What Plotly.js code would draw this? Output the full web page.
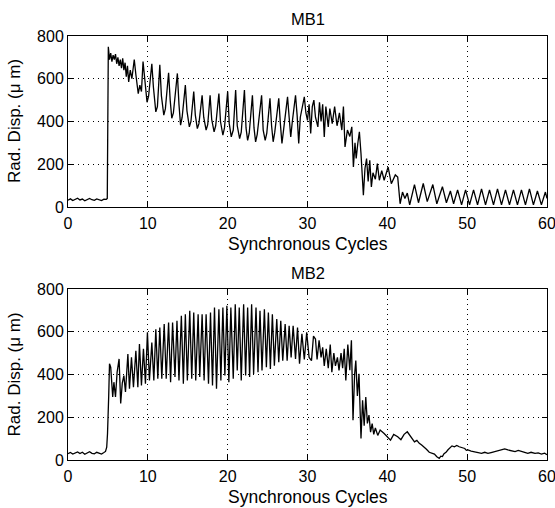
<!DOCTYPE html>
<html>
<head>
<meta charset="utf-8">
<script src="https://cdn.plot.ly/plotly-3.0.1.min.js"></script>
<style>html,body{margin:0;padding:0;background:#fff;}#chart{width:555px;height:508px;}</style>
</head>
<body>
<div id="chart"></div>
<script>
// MB1 radial displacement (µm) vs synchronous cycles
var mb1Cycles = [0,0.3,0.6,0.9,1.2,1.5,1.8,2.1,2.4,2.7,3.0,3.3,3.6,3.9,4.2,4.5,4.8,4.92,5.0,5.05,5.2,5.35,5.5,5.65,5.8,5.95,6.1,6.25,6.4,6.55,6.7,6.85,7.0,7.15,7.3,7.45,7.6,7.8,8.0,8.3,8.5,8.8,9.0,9.2,9.4,9.6,9.9,10.1,10.5,10.7,11.0,11.2,11.5,11.7,12.0,12.2,12.6,12.8,13.0,13.2,13.7,13.9,14.1,14.3,14.7,14.9,15.2,15.4,15.75,15.95,16.2,16.4,16.8,17.0,17.3,17.5,17.8,18.0,18.3,18.5,18.9,19.1,19.4,19.6,20.0,20.2,20.45,20.7,21.0,21.2,21.5,21.7,22.1,22.3,22.5,22.7,23.1,23.3,23.5,23.7,24.25,24.45,24.7,24.9,25.3,25.5,25.7,25.9,26.4,26.6,26.8,27.0,27.5,27.7,27.9,28.1,28.5,28.7,28.9,29.1,29.6,29.8,30.0,30.2,30.4,30.6,30.8,31.0,31.3,31.5,31.7,31.9,32.1,32.3,32.6,32.8,33.1,33.4,33.7,34.0,34.3,34.5,34.7,35.0,35.3,35.55,35.75,35.95,36.1,36.3,36.5,36.7,37.0,37.2,37.4,37.6,37.8,38.0,38.2,38.5,38.75,39.0,39.3,39.6,40.1,40.5,41.0,41.3,41.6,41.9,42.2,42.5,42.8,43.4,43.9,44.5,45.0,45.7,46.2,46.9,47.4,47.9,48.3,48.8,49.3,49.8,50.3,50.8,51.3,51.8,52.3,52.8,53.3,53.8,54.3,54.8,55.3,55.8,56.3,56.8,57.3,57.8,58.3,58.8,59.3,59.8,60];
var mb1Disp = [32,38,30,36,41,33,37,29,35,40,34,31,38,35,30,37,36,40,700,750,690,720,680,710,690,715,670,700,660,690,650,695,640,675,610,660,585,640,600,690,620,530,570,540,680,590,490,520,670,560,445,470,665,520,430,460,628,500,415,440,625,480,383,420,570,450,375,400,540,430,367,390,523,420,360,385,523,410,352,380,531,400,336,370,540,390,328,360,547,380,320,350,547,370,312,345,523,370,305,340,523,360,312,345,508,380,305,350,508,390,297,360,515,420,328,400,523,430,297,420,515,440,405,480,344,470,500,420,375,490,400,480,328,470,375,460,390,470,380,440,360,470,281,360,330,375,187,300,227,297,352,250,55,180,227,120,219,94,160,130,203,125,170,125,187,109,150,140,15,70,40,65,10,105,20,110,25,105,15,95,20,75,15,80,10,80,10,80,10,85,10,80,10,85,10,80,10,80,10,80,10,85,10,75,10,70,40];

// MB2 radial displacement (µm) vs synchronous cycles
var mb2Cycles = [0,0.3,0.6,0.9,1.2,1.5,1.8,2.1,2.4,2.7,3.0,3.3,3.6,3.9,4.2,4.5,4.7,4.85,4.95,5.1,5.2,5.35,5.5,5.6,5.75,5.95,6.15,6.4,6.6,6.8,7.0,7.2,7.5,7.7,7.95,8.2,8.5,8.75,8.95,9.2,9.45,9.7,9.95,10.2,10.5,10.75,11.0,11.25,11.5,11.75,12.05,12.3,12.6,12.85,13.1,13.4,13.65,13.9,14.2,14.45,14.7,14.95,15.25,15.5,15.75,16.0,16.3,16.5,16.8,17.05,17.3,17.6,17.85,18.1,18.35,18.6,18.9,19.15,19.4,19.65,19.9,20.15,20.4,20.7,20.95,21.2,21.45,21.7,22.0,22.25,22.5,22.75,23.0,23.25,23.55,23.8,24.05,24.3,24.6,24.85,25.1,25.35,25.6,25.85,26.15,26.4,26.65,26.9,27.2,27.45,27.7,27.95,28.2,28.5,28.75,29.0,29.3,29.6,29.9,30.2,30.5,30.75,31.0,31.2,31.45,31.7,31.9,32.1,32.35,32.6,32.85,33.05,33.3,33.5,33.75,33.95,34.2,34.4,34.6,34.8,35.05,35.3,35.5,35.7,35.9,36.05,36.25,36.45,36.7,36.9,37.1,37.3,37.5,37.7,37.9,38.1,38.3,38.5,38.8,39.1,39.6,40.0,40.4,40.8,41.3,41.7,42.1,42.5,42.9,43.2,43.4,43.7,44.0,44.3,44.6,44.9,45.25,45.6,45.9,46.2,46.5,46.7,46.9,47.1,47.35,47.6,47.8,48.1,48.4,48.7,49.0,49.3,49.7,49.9,50.1,50.5,50.9,51.3,51.8,52.2,52.6,53.0,53.4,53.8,54.3,54.7,55.1,55.5,56.0,56.4,56.8,57.2,57.6,58.0,58.5,58.9,59.3,59.7,60];
var mb2Disp = [30,35,28,33,38,30,36,27,34,39,31,29,36,33,28,35,40,60,124,300,450,434,330,295,364,295,410,473,264,360,395,318,496,333,480,341,511,341,543,349,520,357,597,372,550,372,612,380,620,380,636,380,643,364,643,388,651,372,675,357,682,372,698,380,690,372,682,388,682,372,682,357,690,349,713,333,705,372,713,395,721,364,713,380,729,419,713,372,729,395,713,388,729,403,713,411,698,419,705,434,690,426,682,441,659,457,651,465,636,465,628,480,628,473,620,450,590,470,597,480,465,580,566,470,560,480,527,440,520,430,540,411,500,440,480,419,500,430,520,372,540,420,560,186,400,465,300,403,101,279,160,295,171,210,130,170,120,150,115,140,124,110,93,120,109,95,120,132,109,95,85,92,78,70,62,50,36,32,28,15,8,18,16,30,36,48,54,66,62,68,62,57,54,45,47,42,39,35,31,36,31,35,39,44,47,52,47,44,39,45,39,36,31,36,31,33,28,32,25];

var xTicks = [0,10,20,30,40,50,60];
var yTicks = [0,200,400,600,800];
var titles = ['MB1','MB2'];
var xLabel = 'Synchronous Cycles';
var yLabel = 'Rad. Disp. (\u03bc m)';

var FONT = 'Liberation Sans, Arial, Helvetica, sans-serif';

function axisStyle(extra){
  var a = {
    showline:true, linecolor:'#000', linewidth:1, mirror:'ticks',
    ticks:'inside', ticklen:5, tickwidth:1, tickcolor:'#000',
    showgrid:true, gridcolor:'#000', gridwidth:1, griddash:'1px,4px',
    zeroline:false, ticklabeloverflow:'allow',
    tickfont:{family:FONT, size:16, color:'#000'}
  };
  for (var k in extra) a[k] = extra[k];
  return a;
}

var traces = [
  {x:mb1Cycles, y:mb1Disp, type:'scatter', mode:'lines', line:{color:'#000', width:1.3}, xaxis:'x', yaxis:'y', hoverinfo:'skip'},
  {x:mb2Cycles, y:mb2Disp, type:'scatter', mode:'lines', line:{color:'#000', width:1.3}, xaxis:'x2', yaxis:'y2', hoverinfo:'skip'}
];

function ann(text, x, y, size, rot){
  return {text:text, xref:'paper', yref:'paper', x:x, y:y, xanchor:'center', yanchor:'middle',
    showarrow:false, textangle:rot||0, font:{family:FONT, size:size, color:'#000'}};
}

var layout = {
  width:555, height:508,
  margin:{l:68, r:8, t:36, b:48},
  paper_bgcolor:'#fff', plot_bgcolor:'#fff',
  showlegend:false,
  xaxis: axisStyle({domain:[0,1], range:[0,60], tickvals:xTicks, anchor:'y', ticklabelstandoff:2}),
  yaxis: axisStyle({domain:[0.5967,1], range:[0,800], tickvals:yTicks, anchor:'x'}),
  xaxis2: axisStyle({domain:[0,1], range:[0,60], tickvals:xTicks, anchor:'y2', ticklabelstandoff:2}),
  yaxis2: axisStyle({domain:[0,0.4033], range:[0,800], tickvals:yTicks, anchor:'x2'}),
  annotations:[
    ann(titles[0], 0.5, 1.0401, 16.5),
    ann(xLabel, 0.5, 0.509, 17.5),
    ann(titles[1], 0.5, 0.4410, 16.5),
    ann(xLabel, 0.5, -0.088, 17.5),
    ann(yLabel, -0.1127, 0.7995, 17, -90),
    ann(yLabel, -0.1127, 0.2017, 17, -90)
  ]
};

Plotly.newPlot('chart', traces, layout, {staticPlot:true, displayModeBar:false});
</script>
</body>
</html>
